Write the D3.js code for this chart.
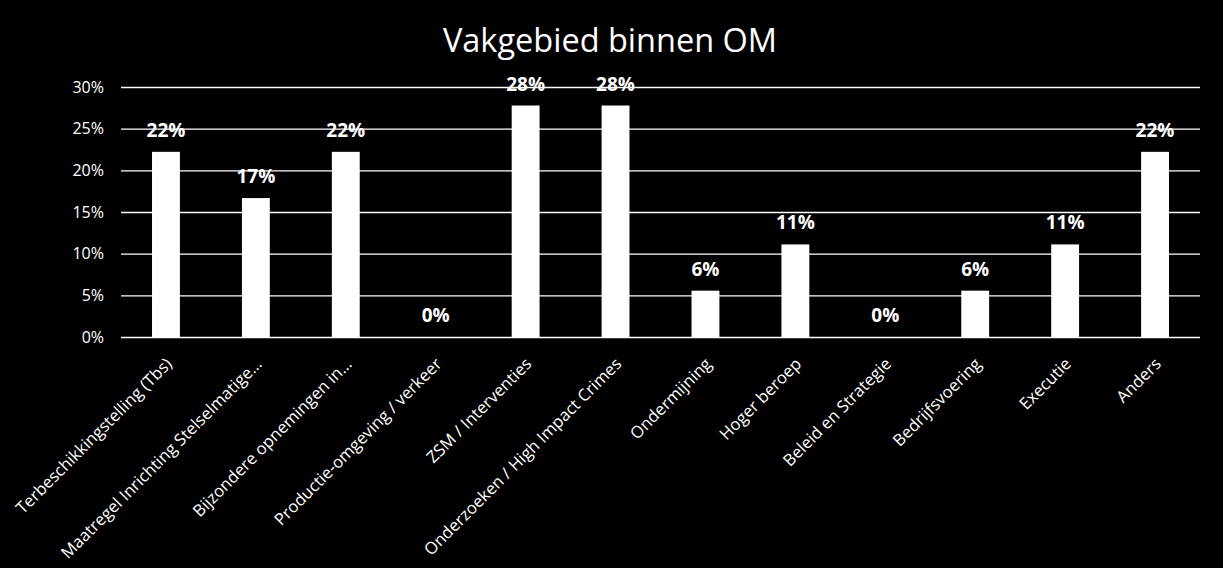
<!DOCTYPE html>
<html>
<head>
<meta charset="utf-8">
<script src="https://cdn.jsdelivr.net/npm/d3@7"></script>
<style>
  html, body { margin: 0; padding: 0; background: #000; }
  svg { display: block; }
</style>
</head>
<body>
<svg id="chart" width="1223" height="568"></svg>
<script>
const title = "Vakgebied binnen OM";
const categories = [
  "Terbeschikkingstelling (Tbs)",
  "Maatregel Inrichting Stelselmatige…",
  "Bijzondere opnemingen in…",
  "Productie-omgeving / verkeer",
  "ZSM / Interventies",
  "Onderzoeken / High Impact Crimes",
  "Ondermijning",
  "Hoger beroep",
  "Beleid en Strategie",
  "Bedrijfsvoering",
  "Executie",
  "Anders"
];
const values = [0.2222, 0.1667, 0.2222, 0, 0.2778, 0.2778, 0.0556, 0.1111, 0, 0.0556, 0.1111, 0.2222];
const yTicks = [0, 0.05, 0.10, 0.15, 0.20, 0.25, 0.30];

const FONT = "'Open Sans', 'DejaVu Sans', sans-serif";
const svg = d3.select("#chart");
svg.append("rect").attr("width", 1223).attr("height", 568).attr("fill", "#000");

const plot = { left: 121, right: 1200, top: 87, bottom: 337 };

const x = d3.scaleBand()
  .domain(categories)
  .range([plot.left, plot.right])
  .paddingInner(0.69)
  .paddingOuter(0.345);

const y = d3.scaleLinear()
  .domain([0, 0.3])
  .range([plot.bottom, plot.top]);

// Title
svg.append("text")
  .attr("x", 610)
  .attr("y", 52)
  .attr("text-anchor", "middle")
  .attr("fill", "#fff")
  .style("font-family", FONT)
  .style("font-size", "32.5px")
  .text(title);

// Gridlines
const grid = svg.append("g")
  .attr("transform", `translate(${plot.left},0)`)
  .call(d3.axisLeft(y).tickValues(yTicks).tickSize(-(plot.right - plot.left)).tickFormat(""));
grid.select(".domain").remove();
grid.selectAll("line").attr("stroke", "#fff").attr("stroke-width", 1.3);

// Y labels
const yAxis = svg.append("g")
  .attr("transform", `translate(${plot.left},0)`)
  .call(d3.axisLeft(y).tickValues(yTicks).tickSize(0).tickPadding(17).tickFormat(d3.format(".0%")));
yAxis.select(".domain").remove();
yAxis.selectAll("text")
  .attr("fill", "#fff")
  .style("font-family", FONT)
  .style("font-size", "16px");

// Bars
svg.append("g").selectAll("rect")
  .data(values)
  .join("rect")
  .attr("x", (d, i) => x(categories[i]))
  .attr("y", d => y(d))
  .attr("width", x.bandwidth())
  .attr("height", d => y(0) - y(d))
  .attr("fill", "#fff");

// Value labels
svg.append("g").selectAll("text")
  .data(values)
  .join("text")
  .attr("x", (d, i) => x(categories[i]) + x.bandwidth() / 2)
  .attr("y", d => y(d) - 15)
  .attr("text-anchor", "middle")
  .attr("fill", "#fff")
  .style("font-family", FONT)
  .style("font-weight", "bold")
  .style("font-size", "19px")
  .text(d => d3.format(".0%")(d));

// X axis labels
const xAxis = svg.append("g")
  .attr("transform", `translate(0,${plot.bottom})`)
  .call(d3.axisBottom(x).tickSize(0));
xAxis.select(".domain").remove();
xAxis.selectAll("text")
  .attr("x", 0).attr("y", 0).attr("dy", 0)
  .attr("transform", "translate(7,28) rotate(-45)")
  .attr("text-anchor", "end")
  .attr("fill", "#fff")
  .style("font-family", FONT)
  .style("font-size", "16.6px");
</script>
</body>
</html>
